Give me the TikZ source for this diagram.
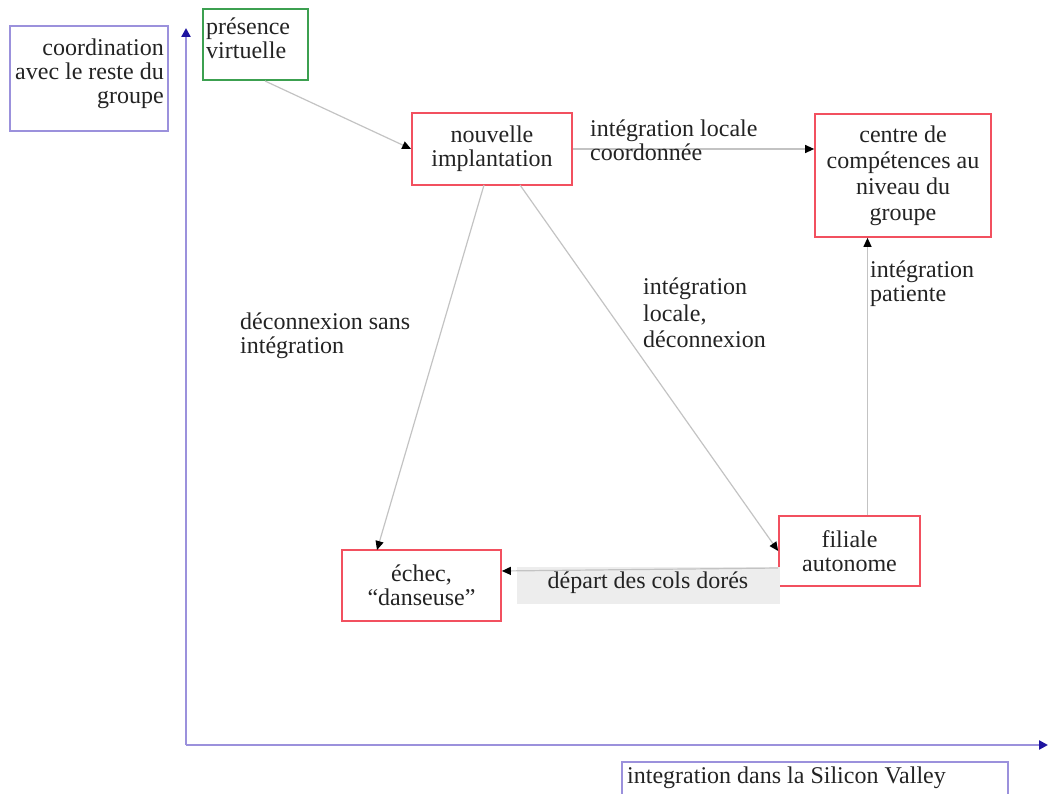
\documentclass[tikz,border=0pt]{standalone}
\usepackage{fontspec}
\setmainfont{Liberation Serif}
\usetikzlibrary{arrows.meta}
\definecolor{axiscol}{RGB}{155,145,220}
\definecolor{axistip}{RGB}{30,20,160}
\definecolor{redbox}{RGB}{242,80,95}
\definecolor{greenbox}{RGB}{60,160,80}
\definecolor{conn}{RGB}{195,195,195}
\definecolor{txt}{RGB}{35,35,35}
\begin{document}
\begin{tikzpicture}[x=1pt,y=-1pt,
  every node/.style={font=\fontsize{24}{24}\selectfont, text=txt, inner sep=0pt},
  redb/.style={draw=redbox, line width=1.7pt, align=center},
  blueb/.style={draw=axiscol, line width=2.2pt},
  greenb/.style={draw=greenbox, line width=1.4pt},
  conn/.style={draw=conn, line width=1.2pt, -{Triangle[length=9pt,width=8pt,color=black]}},
  axis/.style={draw=axiscol, line width=2.8pt, -{Triangle[length=9pt,width=9pt,color=axistip]}},
  lbl/.style={align=left, anchor=north west}
]
\useasboundingbox (0,0) rectangle (1048,794);

% axes
\coordinate (origin) at (186,745);
\coordinate (ytop) at (186,28);
\coordinate (xend) at (1048,745);
\draw[axis] (origin) -- (ytop);
\draw[axis] (origin) -- (xend);

% axis label boxes
\node[blueb, minimum width=158pt, minimum height=105pt] (ybox) at (89,78.5) {};
\node[anchor=north east, align=right] (ylbl) at (164,39) {coordination\\avec le reste du\\groupe};
\node[blueb, minimum width=386pt, minimum height=60pt] (xbox) at (815,792) {};
\node[anchor=west] (xlbl) at (627,778) {integration dans la Silicon Valley};

% nodes
\node[greenb, minimum width=105pt, minimum height=71pt] (pres) at (255.5,44.5) {};
\node[anchor=north west, align=left] (preslbl) at (206,18) {présence\\virtuelle};

\node[redb, minimum width=160pt, minimum height=72pt] (nouv) at (492,149) {nouvelle\\implantation};
\node[redb, minimum width=176pt, minimum height=123pt, font=\fontsize{24}{26}\selectfont] (centre) at (903,175.5) {centre de\\compétences au\\niveau du\\groupe};
\node[redb, minimum width=141pt, minimum height=70pt] (fil) at (849.5,551) {filiale\\autonome};
\node[redb, minimum width=159pt, minimum height=71pt] (echec) at (421.5,585.5) {échec,\\“danseuse”};

% grey label band
\node[fill=black!7, minimum width=263pt, minimum height=37pt] (depart) at (648.5,585.5) {};
\node (departlbl) at (648,583) {départ des cols dorés};

% connectors
\draw[conn] (265,81) -- (nouv.west);
\draw[conn] (nouv.east) -- (centre.west |- nouv.east);
\draw[conn] (484,185) -- (377,550);
\draw[conn] (520,185) -- (fil.west);
\draw[conn] (fil.north) ++(18,0) coordinate (filtop) (filtop) -- (filtop |- centre.south);
\draw[conn] (fil.west |- 0,568) -- (echec.east |- 0,571);

% connector labels
\node[lbl] (l1) at (590,120) {intégration locale\\coordonnée};
\node[lbl] (l2) at (240,313) {déconnexion sans\\intégration};
\node[lbl, font=\fontsize{24}{26.5}\selectfont] (l3) at (643,278) {intégration\\locale,\\déconnexion};
\node[lbl] (l4) at (870,261) {intégration\\patiente};
\end{tikzpicture}
\end{document}
